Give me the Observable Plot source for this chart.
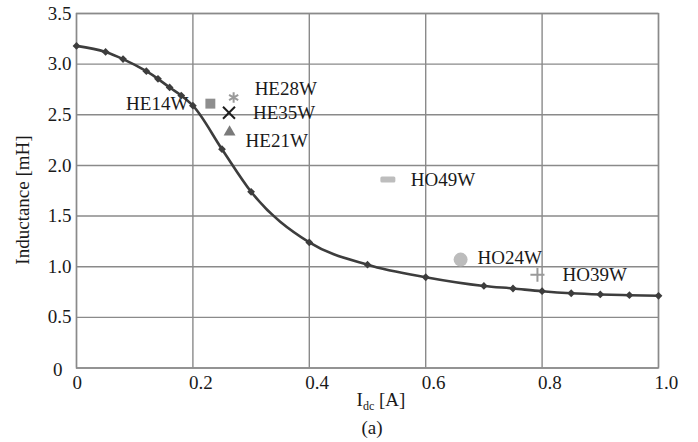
<!DOCTYPE html>
<html>
<head>
<meta charset="utf-8">
<script src="https://cdn.jsdelivr.net/npm/d3@7"></script>
<script src="https://cdn.jsdelivr.net/npm/@observablehq/plot@0.6"></script>
<style>
  body { margin: 0; background: #fff; }
</style>
</head>
<body>
<div id="chart"></div>
<script>
// Measured inductance curve versus DC bias current
const currentA = [0, 0.05, 0.08, 0.12, 0.14, 0.16, 0.18, 0.2, 0.25, 0.3, 0.4, 0.5, 0.6, 0.7, 0.75, 0.8, 0.85, 0.9, 0.95, 1.0];
const inductanceMH = [3.18, 3.12, 3.05, 2.93, 2.855, 2.77, 2.69, 2.59, 2.16, 1.74, 1.24, 1.02, 0.896, 0.81, 0.785, 0.758, 0.738, 0.726, 0.719, 0.713];

// Individual samples
const sampleNames = ["HE14W", "HE28W", "HE35W", "HE21W", "HO49W", "HO24W", "HO39W"];
const sampleCurrentA = [0.23, 0.27, 0.262, 0.263, 0.535, 0.66, 0.792];
const sampleInductanceMH = [2.61, 2.67, 2.52, 2.33, 1.86, 1.07, 0.92];

// Axis ticks
const xTicks = [0, 0.2, 0.4, 0.6, 0.8, 1.0];
const yTicks = [0, 0.5, 1.0, 1.5, 2.0, 2.5, 3.0, 3.5];

const curve = currentA.map((x, i) => ({x, y: inductanceMH[i]}));
const samples = sampleNames.map((name, i) => ({name, x: sampleCurrentA[i], y: sampleInductanceMH[i]}));

// Flat rounded bar marker
const bar = {
  draw(context) {
    const w = 7.5, h = 3, r = 1.5;
    context.moveTo(-w + r, -h);
    context.lineTo(w - r, -h);
    context.arcTo(w, -h, w, -h + r, r);
    context.lineTo(w, h - r);
    context.arcTo(w, h, w - r, h, r);
    context.lineTo(-w + r, h);
    context.arcTo(-w, h, -w, h - r, r);
    context.lineTo(-w, -h + r);
    context.arcTo(-w, -h, -w + r, -h, r);
    context.closePath();
  }
};

const markerStyle = {
  HE14W: {symbol: "square", r: 5.6, fill: "#8e8e8e"},
  HE28W: {symbol: "asterisk", r: 5, fill: "none", stroke: "#9a9a9a", strokeWidth: 2},
  HE35W: {symbol: "times", r: 5.5, fill: "none", stroke: "#1e1e1e", strokeWidth: 2},
  HE21W: {symbol: "triangle", r: 4.4, fill: "#7a7a7a"},
  HO49W: {symbol: bar, r: 5, fill: "#bdbdbd"},
  HO24W: {symbol: "circle", r: 7, fill: "#bcbcbc"},
  HO39W: {symbol: "plus", r: 4.6, fill: "none", stroke: "#9a9a9a", strokeWidth: 2}
};

const labelStyle = {
  HE14W: {textAnchor: "end", dx: -22, dy: 0},
  HE28W: {textAnchor: "start", dx: 21, dy: -9},
  HE35W: {textAnchor: "start", dx: 24, dy: 0},
  HE21W: {textAnchor: "start", dx: 16, dy: 9},
  HO49W: {textAnchor: "start", dx: 23, dy: 0},
  HO24W: {textAnchor: "start", dx: 17, dy: -2},
  HO39W: {textAnchor: "start", dx: 25, dy: 0}
};

const serif = "'Liberation Serif', 'Times New Roman', serif";
const ink = "#1a1a1a";
const grid = "#8a8a8a";
const lineColor = "#3d3d3d";

const fmt = d => d === 0 ? "0" : d.toFixed(1);

const sampleMarks = samples.flatMap(s => [
  Plot.dot([s], {x: "x", y: "y", ...markerStyle[s.name]}),
  Plot.text([s], {x: "x", y: "y", text: "name", fontSize: 19, fontFamily: serif, fill: ink, ...labelStyle[s.name]})
]);

const chart = Plot.plot({
  width: 698,
  height: 442,
  marginLeft: 76,
  marginRight: 40,
  marginTop: 13,
  marginBottom: 74.5,
  style: {fontFamily: serif, fontSize: "19px", color: ink, background: "#fff"},
  x: {domain: [0, 1]},
  y: {domain: [0, 3.5]},
  marks: [
    Plot.gridX(xTicks, {stroke: grid, strokeOpacity: 1, strokeWidth: 1.4}),
    Plot.gridY(yTicks, {stroke: grid, strokeOpacity: 1, strokeWidth: 1.4}),
    Plot.frame({stroke: grid, strokeWidth: 1.4}),
    Plot.axisX({ticks: xTicks, tickSize: 0, tickPadding: 7, tickFormat: fmt, textAnchor: "start", dx: -4, label: null}),
    Plot.axisY({ticks: yTicks.filter(d => d > 0), tickSize: 0, tickPadding: 5, tickFormat: fmt, label: null}),
    Plot.axisY({ticks: [0], tickSize: 0, tickPadding: 5, tickFormat: fmt, dx: -9, dy: 2, label: null}),
    Plot.line(curve, {x: "x", y: "y", stroke: lineColor, strokeWidth: 2.6, curve: "monotone-x"}),
    Plot.dot(curve, {x: "x", y: "y", symbol: "diamond2", r: 3.5, fill: lineColor}),
    ...sampleMarks
  ]
});

const svg = d3.select(chart);

// Axis titles and panel tag
svg.append("text")
  .attr("transform", "translate(28.5,200) rotate(-90)")
  .attr("text-anchor", "middle")
  .attr("font-family", serif)
  .attr("font-size", 19)
  .attr("fill", ink)
  .text("Inductance [mH]");

const xTitle = svg.append("text")
  .attr("x", 381)
  .attr("y", 406)
  .attr("text-anchor", "middle")
  .attr("font-family", serif)
  .attr("font-size", 19)
  .attr("fill", ink);
xTitle.append("tspan").text("I");
xTitle.append("tspan").attr("font-size", 12).attr("dy", 4).text("dc");
xTitle.append("tspan").attr("dy", -4).text(" [A]");

svg.append("text")
  .attr("x", 372)
  .attr("y", 434)
  .attr("text-anchor", "middle")
  .attr("font-family", serif)
  .attr("font-size", 19)
  .attr("fill", ink)
  .text("(a)");

document.getElementById("chart").appendChild(chart);
</script>
</body>
</html>
